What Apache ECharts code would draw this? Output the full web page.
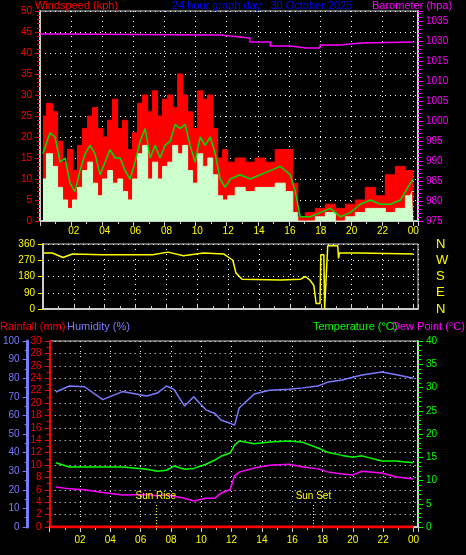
<!DOCTYPE html>
<html>
<head>
    <meta charset="utf-8">
    <script src="https://cdn.jsdelivr.net/npm/echarts@6/dist/echarts.min.js"></script>
    <style>
        body { margin: 0; background: #000; }
        #main { width: 466px; height: 555px; }
    </style>
</head>
<body>
    <div id="main"></div>
    <script type="text/javascript">
        // wind, hours of day
        var windHours = [0.19,0.64,0.97,1.29,1.61,1.93,2.25,2.57,2.9,3.22,3.54,3.86,4.18,4.5,4.83,5.15,5.47,5.79,6.11,6.44,6.76,7.08,7.4,7.72,8.04,8.37,8.69,9.01,9.33,9.65,9.97,10.3,10.62,10.94,11.26,11.58,11.9,12.23,12.87,13.51,14.16,14.8,15.44,16.09,16.41,16.73,17.37,18.02,18.66,19.31,19.95,20.59,21.24,21.88,22.52,23.17,23.81,24];
        var gust = [25,28,26,19,14,17,12,18,22,25,27,22,20,24,29,22,24,17,21,28,30,26,31,25,29,30,27,35,30,26,22,31,29,30,22,15,17,14,15,14,15,14,17,17,9,1,2,3,4,3,4,5,8,6,11,13,12,12];
        var windAvg = [16,21,20,14,15,9,7,12,16,18,16,11,14,17,15,15,12,10,14,19,22,15,18,15,18,19,23,22,23,18,14,20,18,20,16,10,8,10,11,10,11,12,13,11,7,1,1,2,3,1,2,4,5,4,4,5,9,10];
        var windSpeed = [10,16,13,8,5,3,5,8,12,14,9,6,10,12,9,10,7,5,10,16,18,10,14,10,13,14,18,16,18,12,9,16,13,15,11,6,5,6,8,7,8,8,9,7,2,0,0,1,2,0,1,2,3,3,2,3,6,7];

        var baroHours = [0, 0.6, 1.3, 11, 11.6, 12.2, 13.5, 14.8, 16.1, 17.1, 18.0, 19.3, 20.6, 24];
        var baro = [1021.75, 1021.75, 1021.5, 1021.5, 1021.25, 1020.75, 1019.75, 1018.75, 1018.25, 1018.25, 1019, 1019.5, 1019.75, 1019.75];

        var dirHours = [0, 0.6, 1.3, 1.9, 3.9, 7.1, 8.1, 9.1, 10.4, 11.7, 12.3, 12.5, 12.9, 15.4, 16.7, 17.0, 17.3, 17.55, 17.7, 17.95, 18.0, 18.2, 18.25, 18.35, 18.45, 18.5, 19.1, 19.15, 19.2, 20.5, 20.6, 24];
        var windDir = [310, 310, 285, 305, 300, 300, 315, 295, 310, 305, 270, 200, 165, 160, 165, 180, 160, 130, 30, 30, 300, 300, 0, 0, 350, 350, 350, 280, 310, 310, 320, 305];

        var climHours = [0.4, 1.3, 2.3, 3.5, 4.8, 6.4, 7.1, 7.7, 8.2, 8.9, 9.5, 10.3, 10.9, 11.3, 11.9, 12.2, 12.5, 13.5, 14.5, 15.8, 16.7, 17.7, 18.4, 19.3, 20.0, 20.6, 21.9, 22.8, 24];
        var temperature = [13.8, 12.9, 12.9, 12.9, 12.9, 12.4, 12.0, 12.2, 13.1, 12.4, 12.6, 13.5, 14.4, 15.2, 15.9, 17.6, 18.5, 17.9, 18.3, 18.5, 18.2, 17.0, 16.0, 15.4, 15.0, 15.3, 14.2, 14.2, 13.8];
        var dewPoint = [8.6, 8.2, 8.0, 7.4, 6.9, 7.0, 6.7, 6.9, 6.6, 6.2, 5.6, 6.2, 6.2, 7.3, 8.0, 11.0, 11.8, 12.7, 13.3, 13.5, 12.9, 12.5, 11.8, 11.4, 11.2, 12.0, 11.6, 10.8, 10.3];
        var humidity = [72.6, 75.8, 75.4, 68.5, 72.8, 70.4, 72.0, 75.8, 74.0, 65.0, 70.0, 63.0, 61.0, 57.5, 55.8, 54.8, 64.0, 71.5, 73.5, 74.0, 74.8, 75.8, 78.0, 79.0, 80.5, 81.7, 83.3, 82.0, 80.0];
        var rainHours = [0, 24];
        var rainfall = [0, 0];

        var sunRise = 7.0, sunSet = 17.4;

        function pairs(xs, ys) { return xs.map(function (x, i) { return [x, ys[i]]; }); }
        function hourLabel(v) { var h = v % 24; return (h < 10 ? '0' : '') + h; }

        var dotted = { show: true, lineStyle: { color: '#fff', type: [1, 4], width: 1 } };
        var font = 'Liberation Sans';
        var hourAxis = function (grid, showLabel, pos) {
            return {
                type: 'value', gridIndex: grid, min: 0, max: 24.3, interval: 2, position: pos,
                axisLine: { lineStyle: { color: '#ccc', width: 2 } },
                axisTick: { show: true, inside: false, lineStyle: { color: '#ccc' } },
                minorTick: { show: true, splitNumber: 2, lineStyle: { color: '#ccc' } },
                axisLabel: { show: showLabel, color: '#ffff00', fontSize: 10, fontFamily: font,
                    formatter: function (v) { return v > 24 ? '' : (v === 0 ? '' : hourLabel(v)); } },
                splitLine: dotted
            };
        };
        var tf = '11px Liberation Sans';

        var myChart = echarts.init(document.getElementById('main'));
        myChart.setOption({
            backgroundColor: '#000',
            animation: false,
            textStyle: { fontFamily: font },
            graphic: [
                { type: 'text', left: 35, top: 0, style: { text: 'Windspeed (kph)', fill: '#ff0000', font: tf } },
                { type: 'text', left: 172, top: 0, style: { text: '24 hour graph day : 30 October 2025', fill: '#0000ff', font: tf } },
                { type: 'text', left: 372, top: 0, style: { text: 'Barometer (hpa)', fill: '#ff00ff', font: tf } },
                { type: 'text', left: 0, top: 321, style: { text: 'Rainfall (mm)', fill: '#ff0000', font: tf } },
                { type: 'text', left: 67, top: 321, style: { text: 'Humidity (%)', fill: '#7b7bff', font: tf } },
                { type: 'text', left: 313, top: 321, style: { text: 'Temperature (°C)', fill: '#00ff00', font: tf } },
                { type: 'text', left: 392, top: 321, style: { text: 'Dew Point (°C)', fill: '#ff00ff', font: tf } }
            ],
            grid: [
                { left: 40, top: 11, width: 378, height: 210, show: true, borderColor: '#ccc', borderWidth: 1 },
                { left: 43, top: 244, width: 375, height: 65, show: true, borderColor: '#ccc', borderWidth: 1 },
                { left: 43, top: 341, width: 375, height: 186, show: true, borderColor: '#ccc', borderWidth: 1 }
            ],
            xAxis: [
                hourAxis(0, false, 'bottom'),
                hourAxis(1, true, 'top'),
                hourAxis(2, true, 'bottom')
            ],
            yAxis: [
                { type: 'value', gridIndex: 0, min: 0, max: 50, interval: 5, position: 'left',
                  axisLine: { show: true, lineStyle: { color: '#ccc', width: 2 } },
                  axisTick: { show: true, lineStyle: { color: '#ff0000' } },
                  minorTick: { show: true, splitNumber: 5, lineStyle: { color: '#ff0000' } },
                  axisLabel: { color: '#ff0000', fontSize: 10 }, splitLine: dotted },
                { type: 'value', gridIndex: 0, min: 975, max: 1027.5, interval: 5, position: 'right',
                  axisLine: { show: true, lineStyle: { color: '#ccc', width: 2 } },
                  axisTick: { show: true, lineStyle: { color: '#ff00ff' } },
                  minorTick: { show: true, splitNumber: 5, lineStyle: { color: '#ff00ff' } },
                  axisLabel: { color: '#ff00ff', fontSize: 10,
                      formatter: function (v) {
                          if (v % 5 !== 0) return '';
                          return v === 1020 ? '1030' : (v === 1025 ? '1035' : v);
                      } },
                  splitLine: { show: false } },
                { type: 'value', gridIndex: 1, min: 0, max: 360, interval: 90, position: 'left',
                  axisLine: { show: true, lineStyle: { color: '#ccc', width: 2 } },
                  axisTick: { show: true, lineStyle: { color: '#ffff00' } },
                  axisLabel: { color: '#ffff00', fontSize: 10 }, splitLine: dotted },
                { type: 'value', gridIndex: 1, min: 0, max: 360, interval: 90, position: 'right',
                  axisLine: { show: false }, axisTick: { show: false },
                  axisLabel: { color: '#ffff00', fontSize: 13, margin: 18,
                      formatter: function (v) { return { 0: 'N', 90: 'E', 180: 'S', 270: 'W', 360: 'N' }[v]; } },
                  splitLine: { show: false } },
                { type: 'value', gridIndex: 2, min: 0, max: 30, interval: 2, position: 'left',
                  axisLine: { show: true, lineStyle: { color: '#ff0000', width: 2 } },
                  axisTick: { show: true, lineStyle: { color: '#ff0000' } },
                  minorTick: { show: true, splitNumber: 2, lineStyle: { color: '#ff0000' } },
                  axisLabel: { color: '#ff0000', fontSize: 10 }, splitLine: dotted },
                { type: 'value', gridIndex: 2, min: 0, max: 100, interval: 10, position: 'left', offset: 22,
                  axisLine: { show: true, lineStyle: { color: '#7b7bff', width: 3 } },
                  axisTick: { show: true, lineStyle: { color: '#7b7bff' } },
                  minorTick: { show: true, splitNumber: 2, lineStyle: { color: '#7b7bff' } },
                  axisLabel: { color: '#7b7bff', fontSize: 10 }, splitLine: { show: false } },
                { type: 'value', gridIndex: 2, min: 0, max: 40, interval: 5, position: 'right',
                  axisLine: { show: true, lineStyle: { color: '#ccc', width: 2 } },
                  axisTick: { show: true, lineStyle: { color: '#00ff00' } },
                  minorTick: { show: true, splitNumber: 5, lineStyle: { color: '#00ff00' } },
                  axisLabel: { color: '#00ff00', fontSize: 10 }, splitLine: { show: false } }
            ],
            series: [
                { type: 'line', xAxisIndex: 0, yAxisIndex: 0, step: 'middle', symbol: 'none',
                  data: pairs(windHours, gust), lineStyle: { color: '#ff0000', width: 1 },
                  areaStyle: { color: '#ff0000', opacity: 1 } },
                { type: 'line', xAxisIndex: 0, yAxisIndex: 0, step: 'middle', symbol: 'none',
                  data: pairs(windHours, windSpeed), lineStyle: { color: '#ccffcc', width: 1 },
                  areaStyle: { color: '#ccffcc', opacity: 1 } },
                { type: 'line', xAxisIndex: 0, yAxisIndex: 0, symbol: 'none',
                  data: pairs(windHours, windAvg), lineStyle: { color: '#00dd00', width: 1.5 } },
                { type: 'line', xAxisIndex: 0, yAxisIndex: 1, symbol: 'none', step: 'end',
                  data: pairs(baroHours, baro), lineStyle: { color: '#ff00ff', width: 1.5 } },
                { type: 'line', xAxisIndex: 1, yAxisIndex: 2, symbol: 'none',
                  data: pairs(dirHours, windDir), lineStyle: { color: '#ffff00', width: 1.5 } },
                { type: 'line', xAxisIndex: 2, yAxisIndex: 5, symbol: 'none',
                  data: pairs(climHours, humidity), lineStyle: { color: '#7b7bff', width: 1.5 } },
                { type: 'line', xAxisIndex: 2, yAxisIndex: 6, symbol: 'none',
                  data: pairs(climHours, temperature), lineStyle: { color: '#00ff00', width: 1.5 } },
                { type: 'line', xAxisIndex: 2, yAxisIndex: 6, symbol: 'none',
                  data: pairs(climHours, dewPoint), lineStyle: { color: '#ff00ff', width: 1.5 },
                  markLine: {
                      symbol: 'none', silent: true,
                      lineStyle: { color: '#ffff00', type: [1, 2], width: 1 },
                      label: { show: true, position: 'end', color: '#ffff00', fontSize: 10, distance: 3 },
                      data: [
                          [{ coord: [sunRise, 0], name: 'Sun Rise' }, { coord: [sunRise, 5] }],
                          [{ coord: [sunSet, 0], name: 'Sun Set' }, { coord: [sunSet, 5] }]
                      ]
                  } },
                { type: 'line', xAxisIndex: 2, yAxisIndex: 4, symbol: 'none',
                  data: pairs(rainHours, rainfall), lineStyle: { color: '#ff0000', width: 3 } }
            ]
        });
    </script>
</body>
</html>
